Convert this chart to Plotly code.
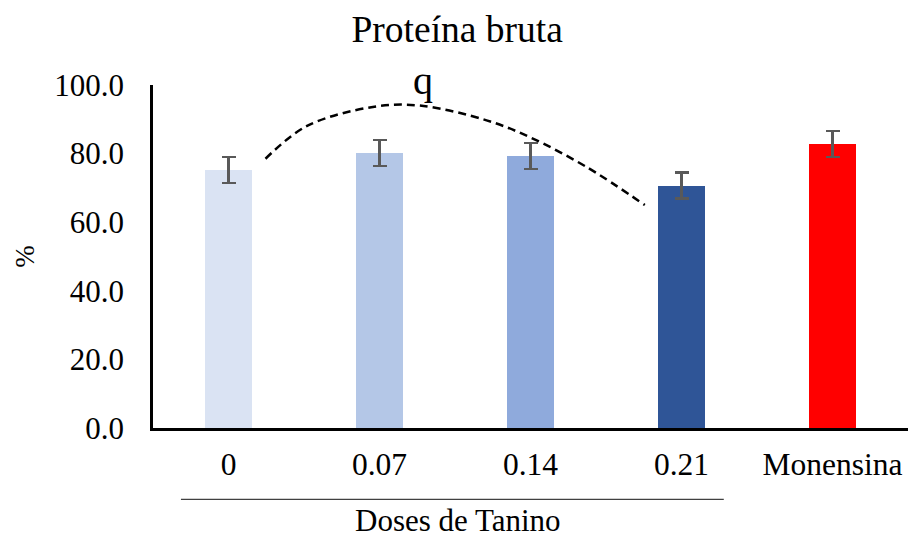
import plotly.graph_objects as go

categories = ["0", "0.07", "0.14", "0.21", "Monensina"]
values = [75.3, 80.1, 79.4, 70.7, 82.7]
errors = [3.8, 3.8, 3.8, 3.8, 3.8]
colors = ["#dae3f3", "#b4c7e7", "#8faadc", "#2f5597", "#ff0000"]

# dashed quadratic trend, x in category positions
trend_x = [0.245, 0.517, 0.956, 1.267, 1.709, 1.995, 2.371, 2.757]
trend_y = [78.5, 88.0, 93.6, 94.0, 89.7, 84.8, 76.1, 65.0]

yticks = [0, 20, 40, 60, 80, 100]
FONT = "Liberation Serif, Times New Roman, serif"

xpos = list(range(len(categories)))

fig = go.Figure()
fig.add_trace(go.Bar(
    x=xpos, y=values, width=0.305,
    marker=dict(color=colors, line=dict(width=0)),
    error_y=dict(type="data", array=errors, visible=True,
                 color="#595959", thickness=2.2, width=7),
    showlegend=False,
))
fig.add_trace(go.Scatter(
    x=trend_x, y=trend_y, mode="lines",
    line=dict(color="black", width=2.5, dash="8px,5px", shape="spline"),
    showlegend=False, hoverinfo="skip",
))

fig.add_annotation(x=1.29, xref="x", y=1.014, yref="paper", yanchor="middle",
                   text="q", showarrow=False,
                   font=dict(family=FONT, size=40, color="black"))
fig.add_annotation(x=1.518, xref="x", y=-0.2685, yref="paper", yanchor="middle",
                   text="Doses de Tanino", showarrow=False,
                   font=dict(family=FONT, size=31, color="black"))
fig.add_shape(type="line", xref="x", yref="paper",
              x0=-0.315, x1=3.28, y0=-0.208, y1=-0.208,
              line=dict(color="#404040", width=1.3))

fig.update_layout(
    width=909, height=539,
    margin=dict(l=153, r=1, t=84.5, b=110.5),
    paper_bgcolor="white", plot_bgcolor="white",
    font=dict(family=FONT, color="black"),
    title=dict(text="Proteína bruta", x=0.503, xanchor="center",
               y=0.947, yanchor="middle",
               font=dict(family=FONT, size=37.5, color="black")),
    bargap=0,
)
fig.update_xaxes(
    range=[-0.5, 4.5], tickvals=xpos, ticktext=categories, automargin=False,
    showline=True, linecolor="black", linewidth=2.5,
    ticks="outside", ticklen=6, tickcolor="rgba(0,0,0,0)",
    tickfont=dict(family=FONT, size=31.5, color="black"),
    showgrid=False, zeroline=False,
)
fig.update_yaxes(
    range=[0, 100], tickvals=yticks, ticktext=[f"{v:.1f}" for v in yticks], automargin=False,
    showline=True, linecolor="black", linewidth=2.5,
    ticks="outside", ticklen=20, tickcolor="rgba(0,0,0,0)",
    tickfont=dict(family=FONT, size=31, color="black"),
    showgrid=False, zeroline=False,
    title=dict(text="%", font=dict(family=FONT, size=27, color="black"), standoff=12),
)

fig.write_html("out.html", config={"displayModeBar": False},
               post_script="document.body.style.margin='0';document.body.style.overflow='hidden';")
